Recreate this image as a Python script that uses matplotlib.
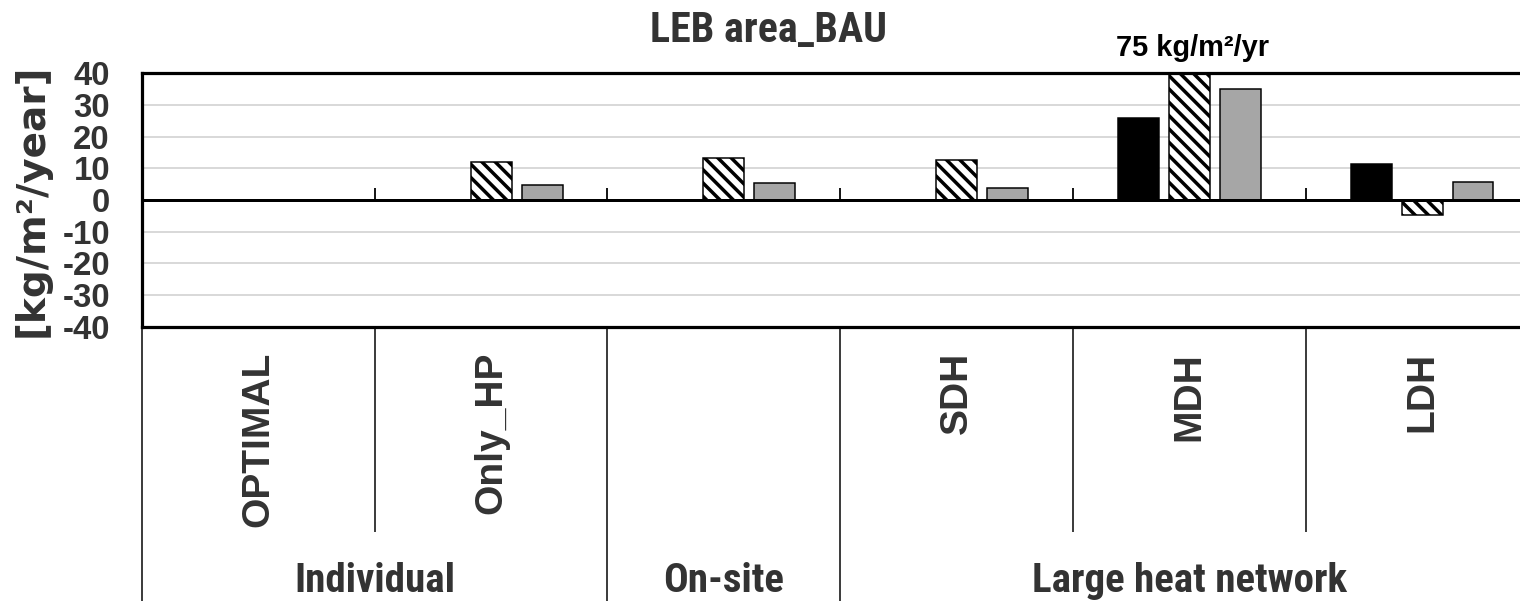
import matplotlib
matplotlib.use("Agg")
import matplotlib.pyplot as plt
import matplotlib.transforms as mtransforms
from matplotlib import font_manager
import numpy as np

# ---- data -------------------------------------------------------------
categories = ["OPTIMAL", "Only_HP", "", "SDH", "MDH", "LDH"]
groups = ["Individual", "On-site", "Large heat network"]
group_members = [[0, 1], [2], [3, 4, 5]]
series_black = [0, 0, 0, 0, 26.0, 11.5]
series_hatched = [0, 12.0, 13.4, 12.6, 75.0, -4.7]
series_grey = [0, 4.7, 5.4, 3.7, 35.2, 5.6]
y_ticks = [-40, -30, -20, -10, 0, 10, 20, 30, 40]
y_tick_labels = [str(t) for t in y_ticks]
title = "LEB area_BAU"
y_label = "[kg/m²/year]"

# ---- figure setup -----------------------------------------------------
DPI = 80
W, H = 1520, 601


def pt(px):
    """pixels -> points at the figure dpi"""
    return px * 72.0 / DPI


_installed = {f.name for f in font_manager.fontManager.ttflist}
ARIAL = ["Liberation Sans", "DejaVu Sans"]
if "Roboto Condensed" in _installed:
    NARROW, NARROW_PX = ["Roboto Condensed", "DejaVu Sans"], 41
else:
    NARROW, NARROW_PX = ARIAL, 35
TXT = "#333333"

plt.rcParams["hatch.linewidth"] = pt(3.5)

fig = plt.figure(figsize=(W / DPI, H / DPI), dpi=DPI)
left, right, top, bottom = 142, 1538.4, 73.3, 326.7
ax = fig.add_axes([left / W, 1 - bottom / H, (right - left) / W, (bottom - top) / H])

x = np.arange(len(categories))
bw = 0.176
off = 0.219

ax.bar(x - off, series_black, bw, color="black", edgecolor="black",
       linewidth=pt(1.5), zorder=2)
ax.bar(x, series_hatched, bw, color="white", edgecolor="black", hatch="\\\\",
       linewidth=pt(1.5), zorder=2)
ax.bar(x + off, series_grey, bw, color="#a6a6a6", edgecolor="black",
       linewidth=pt(1.5), zorder=2)

ax.set_xlim(-0.5, len(categories) - 0.5)
ax.set_ylim(y_ticks[0], y_ticks[-1])
ax.set_yticks(y_ticks)
ax.set_yticklabels(y_tick_labels)
ax.set_xticks([])

for t in y_ticks[1:-1]:
    if t != 0:
        ax.axhline(t, color="#d9d9d9", lw=pt(2), zorder=1)
ax.axhline(0, color="black", lw=pt(3), zorder=3)

for side in ("top", "left", "bottom"):
    ax.spines[side].set_linewidth(pt(3.2))
    ax.spines[side].set_zorder(4)
ax.spines["right"].set_visible(False)

ax.tick_params(axis="y", length=0, pad=pt(32), labelsize=pt(33),
               labelcolor=TXT)
for lab in ax.get_yticklabels():
    lab.set_fontfamily(ARIAL)
    lab.set_fontweight("bold")

# category boundary ticks on the zero line
bounds = np.arange(len(categories) + 1) - 0.5
blend = mtransforms.blended_transform_factory(ax.transData, ax.transAxes)
ax.vlines(bounds[1:-1], 0.5, 0.5 + 12 / (bottom - top), color="black",
          lw=pt(1.8), transform=blend, zorder=3)

# separators below the plot
group_edges = {-0.5}
for members in group_members:
    group_edges.add(members[-1] + 0.5)
for b in bounds:
    depth = (601 - bottom) if b in group_edges else (532 - bottom)
    ax.vlines(b, 0, -depth / (bottom - top), color="black", lw=pt(1.5),
              transform=blend, clip_on=False)

# category labels (rotated)
fblend = mtransforms.blended_transform_factory(ax.transData, fig.transFigure)
for i, name in enumerate(categories):
    if name:
        ax.text(i, 1 - 352 / H, name, rotation=90, ha="center", va="top",
                fontsize=pt(39), fontweight="bold", family=ARIAL, color=TXT,
                transform=fblend)

# group labels
for name, members in zip(groups, group_members):
    ax.text(np.mean(members), 1 - 592 / H, name, ha="center", va="baseline",
            fontsize=pt(NARROW_PX), fontweight="bold", family=NARROW,
            color=TXT, transform=fblend)

# value of the bar that runs past the top of the scale
imax = int(np.argmax(series_hatched))
ax.annotate(f"{series_hatched[imax]:g} kg/m²/yr", xy=(x[imax], y_ticks[-1]),
            xytext=(pt(3), pt(17)), textcoords="offset points",
            ha="center", va="baseline", fontsize=pt(29), fontweight="bold",
            family=ARIAL, color="black", annotation_clip=False)

fig.text(768 / W, 1 - 42 / H, title, ha="center", va="baseline",
         fontsize=pt(NARROW_PX + 1), fontweight="bold", family=NARROW,
         color=TXT)
fig.text(32 / W, 1 - 200 / H, y_label, rotation=90, ha="center", va="center",
         fontsize=pt(39), fontweight="bold", family=["DejaVu Sans"], color=TXT)

fig.savefig("out.png", dpi=DPI)
